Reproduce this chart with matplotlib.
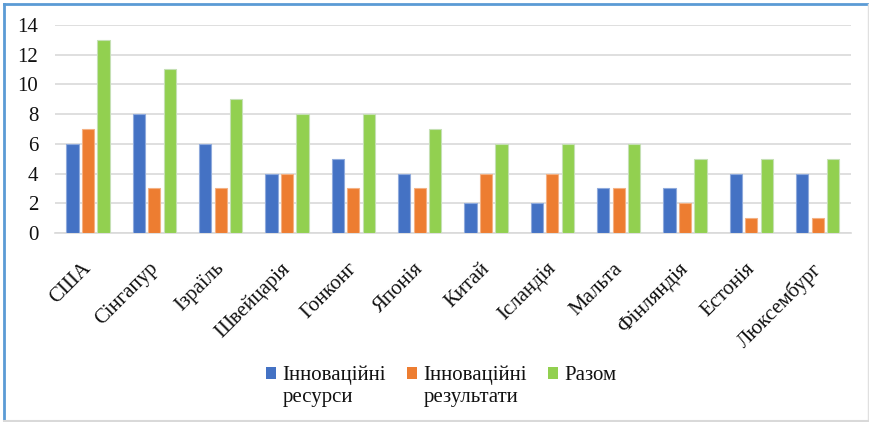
import numpy as np
import matplotlib.pyplot as plt
from matplotlib.lines import Line2D
from matplotlib.patches import Rectangle
from matplotlib.legend_handler import HandlerPatch
from matplotlib.font_manager import FontProperties, findfont
from matplotlib.transforms import ScaledTranslation

serif_path = findfont('Liberation Serif')
plt.rcParams['font.family'] = 'Liberation Serif'

countries = ['США', 'Сінгапур', 'Ізраїль', 'Швейцарія', 'Гонконг', 'Японія',
             'Китай', 'Ісландія', 'Мальта', 'Фінляндія', 'Естонія', 'Люксембург']
resources = [6, 8, 6, 4, 5, 4, 2, 2, 3, 3, 4, 4]
results = [7, 3, 3, 4, 3, 3, 4, 4, 3, 2, 1, 1]
total = [13, 11, 9, 8, 8, 7, 6, 6, 6, 5, 5, 5]
series_names = ['Інноваційні\nресурси', 'Інноваційні\nрезультати', 'Разом\n ']
colors = ['#4472C4', '#ED7D31', '#92D050']
edges = ['#8faadc', '#f4b183', '#c5e0b4']

fig = plt.figure(figsize=(8.7, 4.22), dpi=100)
ax = fig.add_axes([0.063, 0.448, 0.915, 0.493])

x = np.arange(len(countries))
w = 0.185
step = 0.235
bars = []
for i, vals in enumerate([resources, results, total]):
    b = ax.bar(x + (i - 1) * step, vals, width=w, color=colors[i],
               edgecolor=edges[i], linewidth=0.8, label=series_names[i], zorder=3)
    bars.append(b)

ax.set_xlim(-0.5, len(countries) - 0.5)
ax.set_ylim(0, 14)
ax.set_yticks(range(0, 15, 2))
ax.yaxis.grid(True, color='#d9d9d9', linewidth=1.2, zorder=0)
for s in ['top', 'right', 'left']:
    ax.spines[s].set_visible(False)
ax.spines['bottom'].set_color('#d9d9d9')
ax.spines['bottom'].set_linewidth(1.2)

fp_tick = FontProperties(fname=serif_path, size=15)
ax.tick_params(axis='both', length=0, colors='#111111')
ax.tick_params(axis='y', pad=12)
for lab in ax.get_yticklabels():
    lab.set_fontproperties(fp_tick)
ax.set_xticks(x)
ax.set_xticklabels(countries, rotation=45, ha='right', rotation_mode='anchor')
ax.tick_params(axis='x', pad=16)
shift = ScaledTranslation(-6 / 100, -4 / 100, fig.dpi_scale_trans)
for lab in ax.get_xticklabels():
    lab.set_fontproperties(fp_tick)
    lab.set_transform(lab.get_transform() + shift)


# square marker sitting on the first line of a two-line label
class TopSquare(HandlerPatch):
    def create_artists(self, legend, orig_handle, xdescent, ydescent,
                       width, height, fontsize, trans):
        p = Rectangle((-xdescent, -ydescent + 0.62 * fontsize), width, height,
                      facecolor=orig_handle.get_facecolor(), edgecolor='none',
                      transform=trans)
        return [p]


fp_leg = FontProperties(fname=serif_path, size=15)
fig.legend(handles=[b.patches[0] for b in bars], labels=series_names,
           loc='center', bbox_to_anchor=(0.507, 0.085), ncol=3, frameon=False,
           prop=fp_leg, handlelength=0.5, handleheight=0.5, handletextpad=0.3,
           columnspacing=1.0, borderaxespad=0, labelcolor='#111111',
           handler_map={Rectangle: TopSquare()})

# frame lines like the original screenshot
fig.add_artist(Line2D([0.005, 0.005], [0, 0.99], color='#5b9bd5', lw=2, transform=fig.transFigure))
fig.add_artist(Line2D([0.005, 1.0], [0.99, 0.99], color='#5b9bd5', lw=2, transform=fig.transFigure))
fig.add_artist(Line2D([0.998, 0.998], [0, 0.99], color='#e0e0e0', lw=1, transform=fig.transFigure))
fig.add_artist(Line2D([0.005, 1.0], [0.003, 0.003], color='#d9d9d9', lw=1.5, transform=fig.transFigure))

plt.savefig('out.png', dpi=100)
